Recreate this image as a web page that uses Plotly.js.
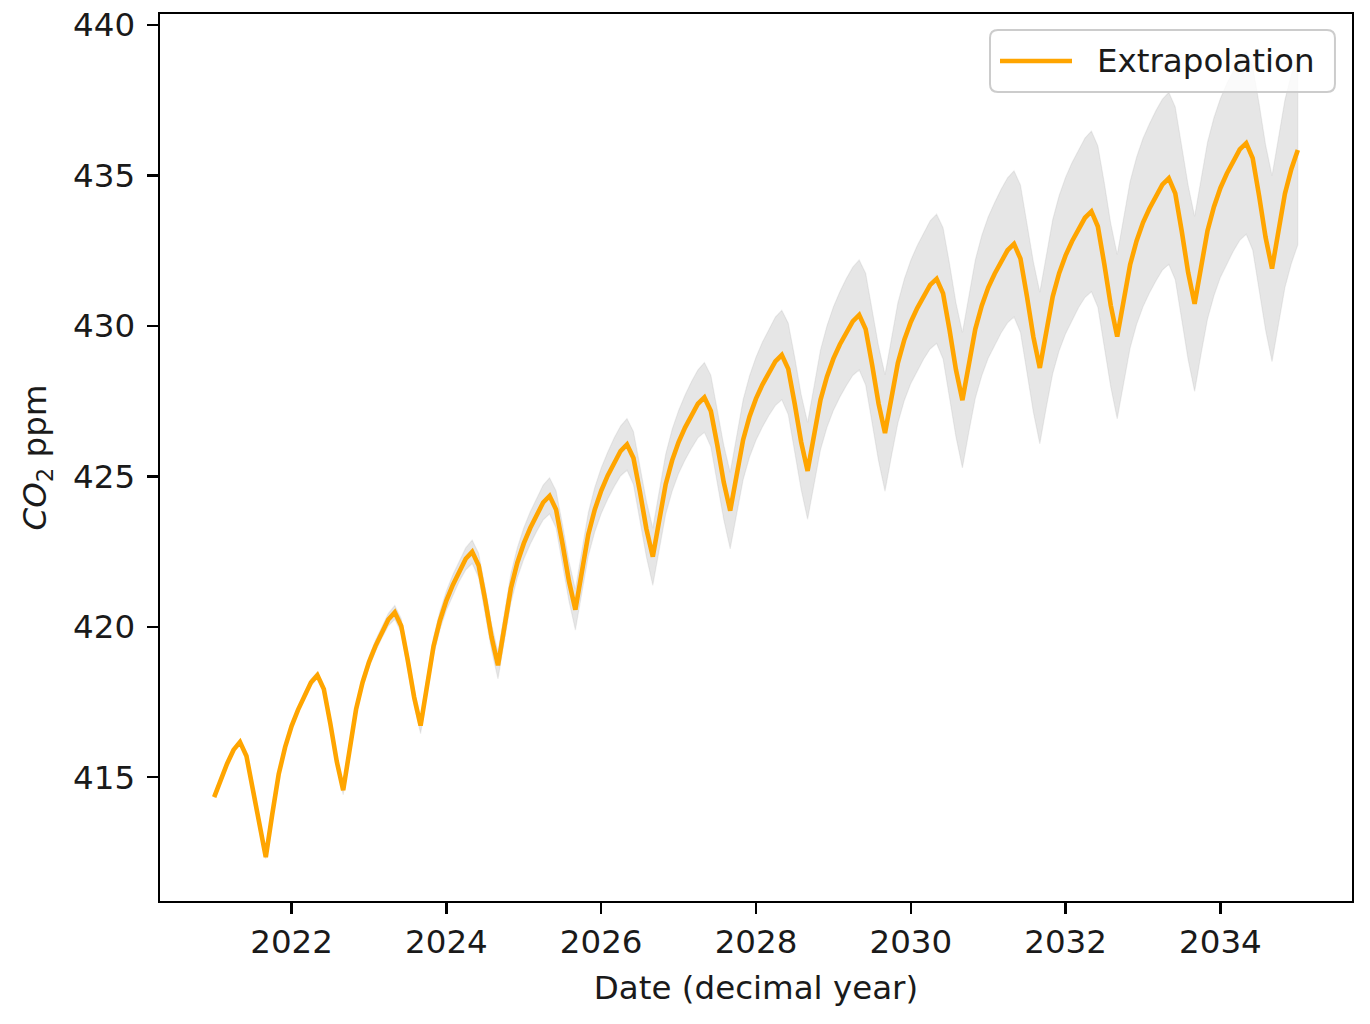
<!DOCTYPE html>
<html>
<head>
<meta charset="utf-8">
<script src="https://cdn.plot.ly/plotly-3.0.1.min.js"></script>
<style>
  html, body { margin: 0; padding: 0; background: #ffffff; }
  #chart { width: 1370px; height: 1024px; }
</style>
</head>
<body>
<div id="chart"></div>
<script>
// ---------------- data ----------------
const startYear = 2021;          // first monthly sample (decimal year)
const samplesPerYear = 12;       // monthly samples

// mean extrapolated CO2 (ppm), one row per year, Jan..Dec
const meanCO2 = [
  414.34, 414.93, 415.45, 415.91, 416.17, 415.71, 414.57, 413.31, 412.35, 413.77, 415.10, 416.00,
  416.70, 417.24, 417.73, 418.15, 418.39, 417.93, 416.79, 415.53, 414.57, 415.96, 417.26, 418.15,
  418.83, 419.36, 419.83, 420.24, 420.48, 420.03, 418.90, 417.66, 416.72, 418.08, 419.35, 420.21,
  420.87, 421.39, 421.86, 422.26, 422.49, 422.04, 420.91, 419.66, 418.72, 420.04, 421.28, 422.13,
  422.77, 423.28, 423.73, 424.13, 424.35, 423.90, 422.76, 421.52, 420.57, 421.86, 423.07, 423.89,
  424.52, 425.02, 425.46, 425.84, 426.06, 425.61, 424.49, 423.26, 422.33, 423.57, 424.74, 425.53,
  426.14, 426.62, 427.04, 427.41, 427.62, 427.17, 426.04, 424.80, 423.86, 425.08, 426.21, 426.99,
  427.58, 428.05, 428.46, 428.82, 429.03, 428.57, 427.41, 426.14, 425.18, 426.40, 427.54, 428.31,
  428.91, 429.38, 429.79, 430.15, 430.36, 429.89, 428.71, 427.42, 426.44, 427.64, 428.77, 429.54,
  430.13, 430.59, 431.00, 431.36, 431.56, 431.08, 429.87, 428.54, 427.53, 428.75, 429.89, 430.67,
  431.27, 431.73, 432.15, 432.51, 432.72, 432.23, 430.99, 429.63, 428.60, 429.82, 430.97, 431.75,
  432.34, 432.81, 433.23, 433.59, 433.80, 433.30, 432.05, 430.68, 429.64, 430.88, 432.03, 432.82,
  433.43, 433.90, 434.32, 434.69, 434.90, 434.40, 433.15, 431.77, 430.73, 431.99, 433.16, 433.96,
  434.58, 435.06, 435.48, 435.86, 436.07, 435.57, 434.32, 432.94, 431.90, 433.19, 434.39, 435.21,
  435.84
];

// half width of the grey uncertainty band (ppm), same layout as meanCO2
const bandHalfWidth = [
  0.02, 0.025, 0.03, 0.035, 0.04, 0.045, 0.05, 0.055, 0.06, 0.065, 0.07, 0.075,
  0.08, 0.09, 0.10, 0.11, 0.11, 0.12, 0.13, 0.14, 0.15, 0.16, 0.17, 0.17,
  0.18, 0.19, 0.20, 0.21, 0.23, 0.24, 0.25, 0.26, 0.27, 0.29, 0.30, 0.31,
  0.32, 0.34, 0.35, 0.37, 0.39, 0.40, 0.42, 0.44, 0.45, 0.47, 0.49, 0.50,
  0.52, 0.54, 0.56, 0.58, 0.60, 0.62, 0.64, 0.66, 0.68, 0.70, 0.72, 0.74,
  0.76, 0.78, 0.81, 0.83, 0.86, 0.88, 0.91, 0.93, 0.95, 0.98, 1.00, 1.03,
  1.05, 1.08, 1.11, 1.13, 1.16, 1.19, 1.22, 1.24, 1.27, 1.30, 1.33, 1.35,
  1.38, 1.41, 1.44, 1.47, 1.49, 1.52, 1.55, 1.58, 1.61, 1.64, 1.66, 1.69,
  1.72, 1.75, 1.78, 1.80, 1.83, 1.86, 1.89, 1.91, 1.94, 1.97, 2.00, 2.02,
  2.05, 2.08, 2.10, 2.13, 2.15, 2.18, 2.20, 2.23, 2.25, 2.28, 2.30, 2.33,
  2.35, 2.37, 2.39, 2.41, 2.43, 2.45, 2.48, 2.50, 2.52, 2.54, 2.56, 2.58,
  2.60, 2.62, 2.63, 2.65, 2.67, 2.68, 2.70, 2.72, 2.73, 2.75, 2.77, 2.78,
  2.80, 2.81, 2.83, 2.84, 2.86, 2.87, 2.89, 2.90, 2.91, 2.93, 2.94, 2.96,
  2.97, 2.99, 3.00, 3.02, 3.03, 3.05, 3.06, 3.08, 3.09, 3.11, 3.12, 3.14,
  3.15
];

const xTickVals = [2022, 2024, 2026, 2028, 2030, 2032, 2034];
const yTickVals = [415, 420, 425, 430, 435, 440];
const seriesName = 'Extrapolation';
const xTitle = 'Date (decimal year)';
const yTitle = '<i>CO</i><sub>2</sub> ppm';

// ---------------- build traces ----------------
const dates = meanCO2.map((_, i) => startYear + i / samplesPerYear);
const upper = meanCO2.map((v, i) => v + bandHalfWidth[i]);
const lower = meanCO2.map((v, i) => v - bandHalfWidth[i]);

const lineColor = '#FFA500';
const lineWidth = 4.6;

const bandTrace = {
  x: dates.concat(dates.slice().reverse()),
  y: upper.concat(lower.slice().reverse()),
  type: 'scatter',
  mode: 'lines',
  fill: 'toself',
  fillcolor: 'rgba(128,128,128,0.2)',
  line: { color: 'rgba(128,128,128,0.12)', width: 1.2 },
  hoverinfo: 'skip',
  showlegend: false
};

const meanTrace = {
  x: dates,
  y: meanCO2,
  type: 'scatter',
  mode: 'lines',
  name: seriesName,
  line: { color: lineColor, width: lineWidth },
  showlegend: false
};

const font = 'DejaVu Sans, Liberation Sans, sans-serif';
const fs = 32.5;
const textColor = '#1a1a1a';

const axisCommon = {
  showline: true, mirror: true, linecolor: '#000000', linewidth: 2.4,
  ticks: 'outside', ticklen: 11, tickwidth: 2.4, tickcolor: '#000000',
  showgrid: false, zeroline: false,
  tickfont: { family: font, size: fs, color: textColor }
};

// legend box (matplotlib style: rounded frame, handle line, label), in plot-area fractions
const lg = { x0: 0.6963, x1: 0.9857, y0: 0.9121, y1: 0.9820, rx: 0.0067, ry: 0.009,
             hx0: 0.7047, hx1: 0.7651, hy: 0.9470, tx: 0.7845 };
const roundRect =
  `M ${lg.x0 + lg.rx},${lg.y0} L ${lg.x1 - lg.rx},${lg.y0} Q ${lg.x1},${lg.y0} ${lg.x1},${lg.y0 + lg.ry} ` +
  `L ${lg.x1},${lg.y1 - lg.ry} Q ${lg.x1},${lg.y1} ${lg.x1 - lg.rx},${lg.y1} ` +
  `L ${lg.x0 + lg.rx},${lg.y1} Q ${lg.x0},${lg.y1} ${lg.x0},${lg.y1 - lg.ry} ` +
  `L ${lg.x0},${lg.y0 + lg.ry} Q ${lg.x0},${lg.y0} ${lg.x0 + lg.rx},${lg.y0} Z`;

const layout = {
  width: 1370, height: 1024, autosize: false,
  paper_bgcolor: '#ffffff', plot_bgcolor: '#ffffff',
  margin: { l: 160, r: 18, t: 14, b: 123, pad: 0 },
  font: { family: font, size: fs, color: textColor },
  xaxis: Object.assign({}, axisCommon, {
    range: [2020.3, 2035.7],
    tickmode: 'array', tickvals: xTickVals, ticktext: xTickVals.map(String),
    ticklabelstandoff: 0,
    title: { text: xTitle, font: { family: font, size: fs, color: textColor }, standoff: 16 }
  }),
  yaxis: Object.assign({}, axisCommon, {
    range: [410.89, 440.36],
    tickmode: 'array', tickvals: yTickVals, ticktext: yTickVals.map(String),
    ticklabelstandoff: 5,
    title: { text: yTitle, font: { family: font, size: fs, color: textColor }, standoff: 17 }
  }),
  showlegend: false,
  shapes: [
    { type: 'path', xref: 'paper', yref: 'paper', path: roundRect, layer: 'above',
      fillcolor: 'rgba(255,255,255,0.8)', line: { color: '#cccccc', width: 2 } },
    { type: 'line', xref: 'paper', yref: 'paper', layer: 'above',
      x0: lg.hx0, x1: lg.hx1, y0: lg.hy, y1: lg.hy, line: { color: lineColor, width: lineWidth } }
  ],
  annotations: [
    { xref: 'paper', yref: 'paper', x: lg.tx, y: lg.hy, xanchor: 'left', yanchor: 'middle',
      text: seriesName, showarrow: false, font: { family: font, size: fs, color: textColor } }
  ]
};

Plotly.newPlot('chart', [bandTrace, meanTrace], layout, { staticPlot: true, displayModeBar: false });
</script>
</body>
</html>
